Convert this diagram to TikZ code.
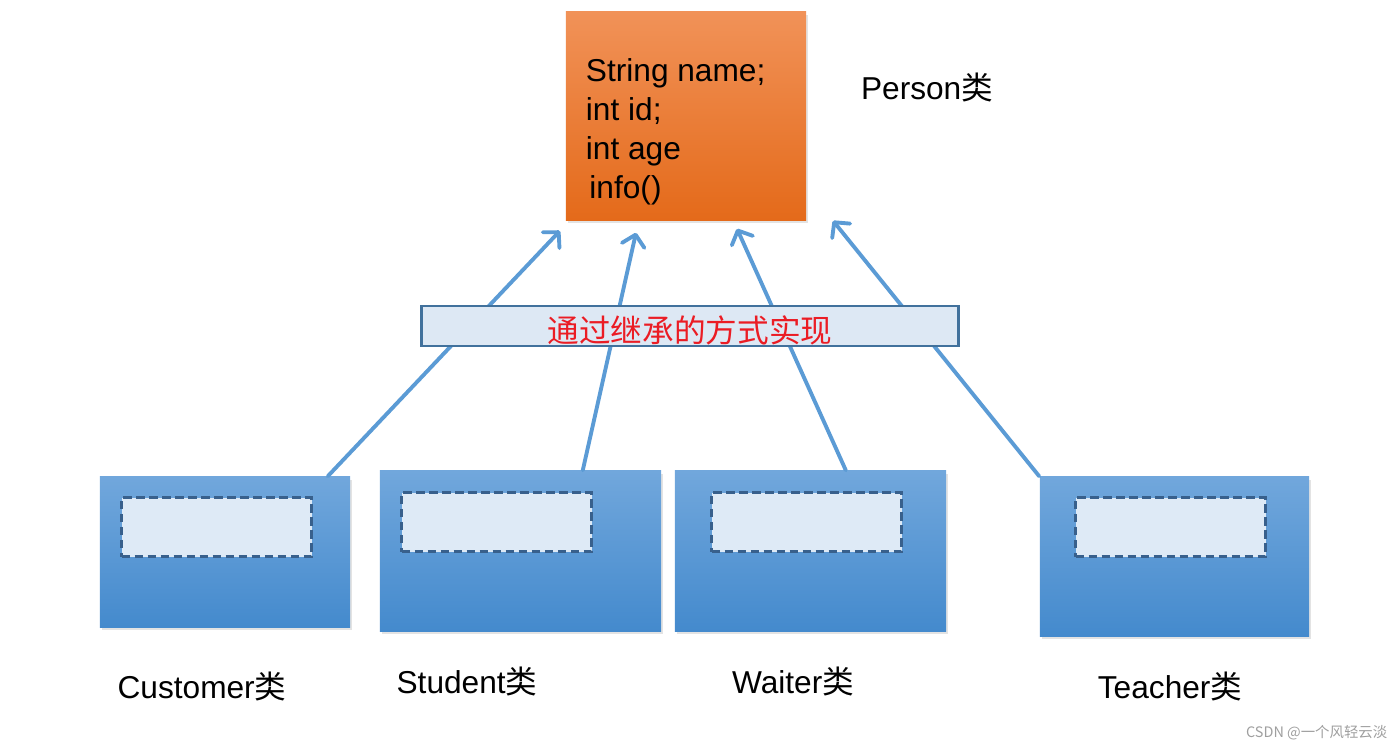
\documentclass[tikz,border=0pt]{standalone}
\usepackage{fontspec}
\setmainfont{Liberation Sans}
\newfontfamily\cjk{Noto Sans CJK SC}
\usepackage{xcolor}
\usetikzlibrary{arrows.meta, positioning, calc, shadows}

\definecolor{persontop}{RGB}{241,146,88}
\definecolor{personbot}{RGB}{228,106,26}
\definecolor{clstop}{RGB}{113,167,220}
\definecolor{clsbot}{RGB}{68,138,205}
\definecolor{slotfill}{RGB}{222,234,246}
\definecolor{slotline}{RGB}{56,96,140}
\definecolor{hintfill}{RGB}{221,232,244}
\definecolor{hintline}{RGB}{65,113,156}
\definecolor{arrowblue}{RGB}{91,155,213}
\definecolor{hintred}{RGB}{235,28,36}

\begin{document}
\begin{tikzpicture}[x=0.01cm,y=-0.01cm,>=Stealth,
    font=\fontsize{9}{11}\selectfont,
    cls/.style={rectangle, inner sep=0pt, top color=clstop, bottom color=clsbot,
      drop shadow={shadow xshift=0.5pt, shadow yshift=-0.8pt, opacity=0.22}},
    slot/.style={rectangle, inner sep=0pt, anchor=north west,
      minimum width=1.90cm, minimum height=0.59cm,
      fill=slotfill, draw=slotline, line width=0.8pt, dash pattern=on 2.4pt off 1.3pt},
    inh/.style={draw=arrowblue, line width=1.1pt, line cap=round,
      -{Straight Barb[length=1.1mm, width=2.3mm, round]}},
    clsname/.style={inner sep=0pt}
  ]
    \useasboundingbox (0,0) rectangle (1400,748);

    % parent class
    \node[rectangle, inner sep=0pt, minimum width=2.40cm, minimum height=2.08cm,
          top color=persontop, bottom color=personbot,
          drop shadow={shadow xshift=0.5pt, shadow yshift=-0.8pt, opacity=0.22}]
      (person) at (686,116) {};
    \node[anchor=north west, inner sep=0pt, align=left,
          font=\fontsize{9}{11.1}\selectfont]
      (fields) at ([shift={(20,47)}]person.north west)
      {String name;\\int id;\\int age\\\kern1pt info()};
    \node[clsname] (plabel) at (927,87) {Person{\cjk 类}};

    % child classes
    \node[cls, minimum width=2.50cm, minimum height=1.50cm] (cust) at (225,552) {};
    \node[cls, minimum width=2.81cm, minimum height=1.60cm] (stud) at (520.5,551) {};
    \node[cls, minimum width=2.71cm, minimum height=1.60cm] (wait) at (810.5,551) {};
    \node[cls, minimum width=2.69cm, minimum height=1.59cm] (teach) at (1174.5,556.5) {};

    \node[slot] (custslot) at ([shift={(21,20)}]cust.north west) {};
    \node[slot] (studslot) at ([shift={(21,21)}]stud.north west) {};
    \node[slot] (waitslot) at ([shift={(36,21)}]wait.north west) {};
    \node[slot] (teachslot) at ([shift={(35,20)}]teach.north west) {};

    \node[clsname] (custname) at (202,686) {Customer{\cjk 类}};
    \node[clsname] (studname) at (467,681) {Student{\cjk 类}};
    \node[clsname] (waitname) at (793,681) {Waiter{\cjk 类}};
    \node[clsname] (teachname) at (1170,686) {Teacher{\cjk 类}};

    % inheritance arrows
    \draw[inh] ([shift={(-23,0)}]cust.north east) -- ([shift={(-126,10)}]person.south);
    \draw[inh] ([shift={(-79,0)}]stud.north east) -- ([shift={(-50,12)}]person.south);
    \draw[inh] ([shift={(-101,0)}]wait.north east) -- ([shift={(51,8)}]person.south);
    \draw[inh] (teach.north west) -- ([shift={(147,0)}]person.south);

    % note on top of the arrows
    \node[rectangle, inner sep=0pt, minimum width=5.36cm, minimum height=0.40cm,
          text height=3pt, text depth=3pt,
          fill=hintfill, draw=hintline, line width=0.8pt,
          text=hintred, font=\cjk\fontsize{9}{11}\selectfont]
      (via) at (690,326) {\raisebox{-4.6pt}{通过继承的方式实现}};

    \node[text=gray!75, font=\cjk\fontsize{4.1}{5}\selectfont, anchor=east, inner sep=0pt]
      (mark) at (1388,733) {CSDN @一个风轻云淡};
\end{tikzpicture}
\end{document}
